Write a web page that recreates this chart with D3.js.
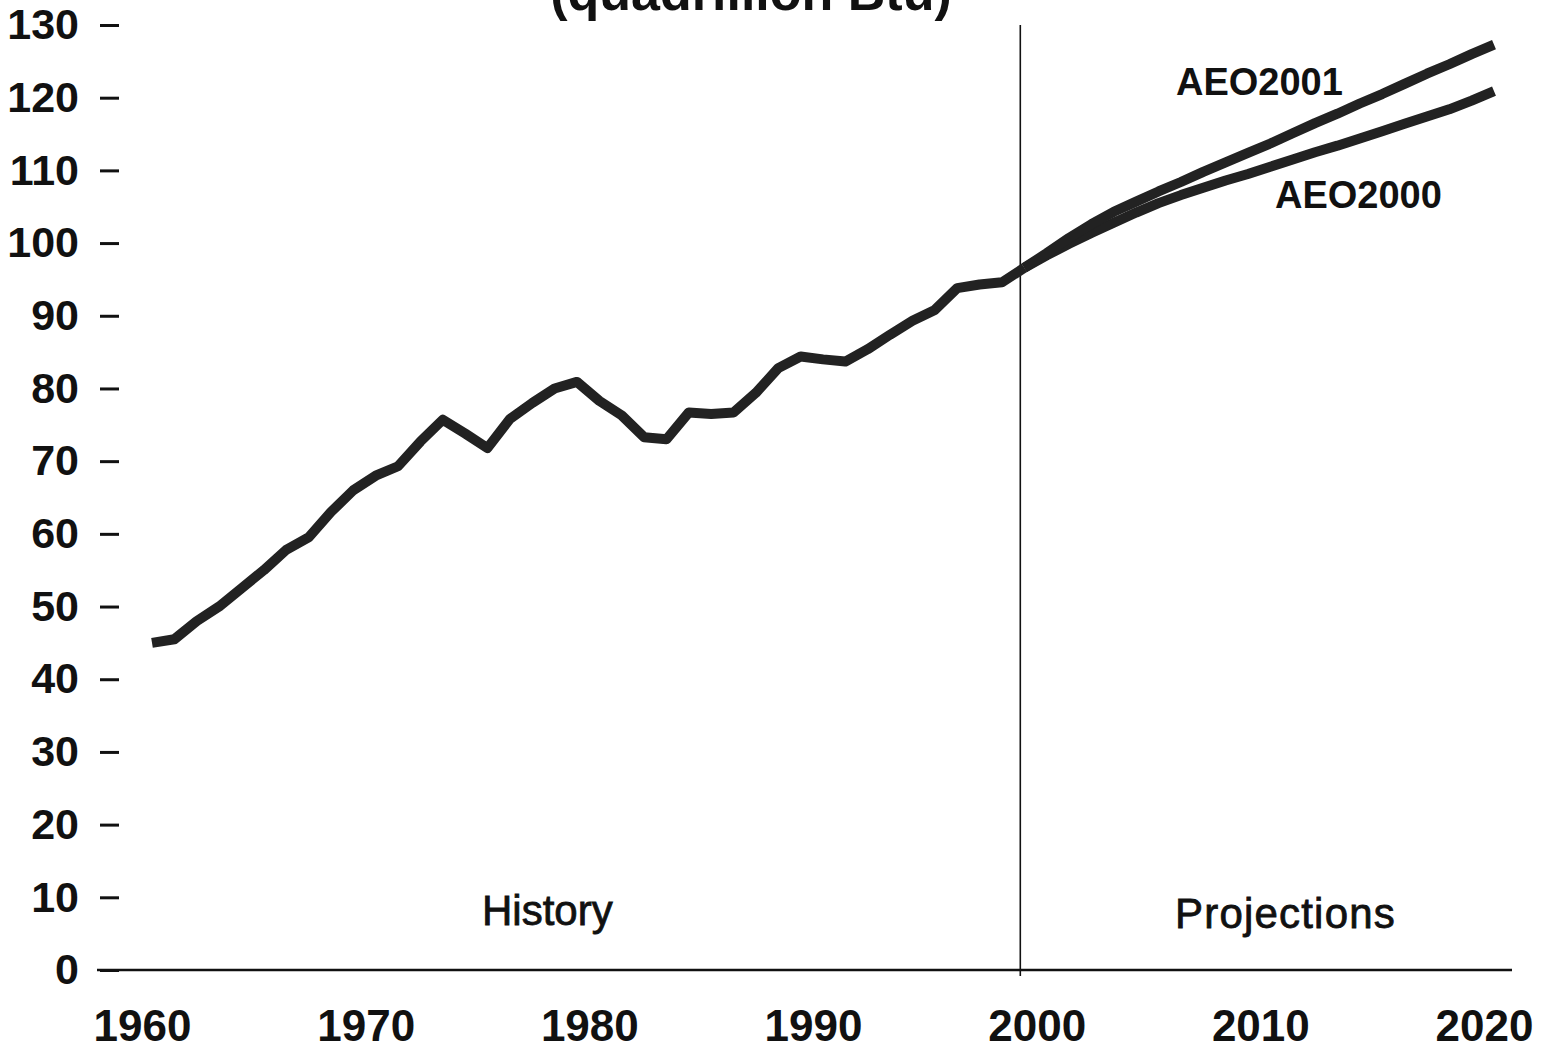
<!DOCTYPE html>
<html lang="en">
<head>
<meta charset="UTF-8">
<title>Energy Consumption, History and Projections</title>
<script src="https://d3js.org/d3.v7.min.js"></script>
<style>
  body { margin: 0; background: #fff; }
  svg { display: block; font-family: "Liberation Sans", Arial, sans-serif; }
  .axis text { font-weight: bold; fill: #111; }
  .label { fill: #111; }
</style>
</head>
<body>
<div id="chart"></div>
<script>
// History, quadrillion Btu
const histYears = [1960, 1961, 1962, 1963, 1964, 1965, 1966, 1967, 1968, 1969,
                   1970, 1971, 1972, 1973, 1974, 1975, 1976, 1977, 1978, 1979,
                   1980, 1981, 1982, 1983, 1984, 1985, 1986, 1987, 1988, 1989,
                   1990, 1991, 1992, 1993, 1994, 1995, 1996, 1997, 1998, 1999];
const histValues = [45.0, 45.5, 48.0, 50.0, 52.5, 55.0, 57.8, 59.5, 63.0, 66.0,
                    68.0, 69.3, 72.7, 75.7, 73.8, 71.8, 75.8, 78.0, 80.0, 80.9,
                    78.3, 76.3, 73.3, 73.0, 76.7, 76.5, 76.7, 79.4, 82.8, 84.4,
                    84.0, 83.7, 85.4, 87.4, 89.3, 90.8, 93.8, 94.3, 94.6, 96.6];

// Projections
const projYears = [1999, 2000, 2001, 2002, 2003, 2004, 2005, 2006, 2007, 2008, 2009,
                   2010, 2011, 2012, 2013, 2014, 2015, 2016, 2017, 2018, 2019, 2020];
const aeo2001 = [96.6, 98.6, 100.7, 102.6, 104.3, 105.7, 107.1, 108.4, 109.8, 111.1, 112.4,
                 113.7, 115.1, 116.5, 117.8, 119.2, 120.5, 121.9, 123.3, 124.6, 126.0, 127.3];
const aeo2000 = [96.6, 98.3, 99.9, 101.4, 102.8, 104.2, 105.5, 106.6, 107.6, 108.6, 109.5,
                 110.5, 111.5, 112.5, 113.4, 114.4, 115.4, 116.4, 117.4, 118.4, 119.6, 120.9];

const yTicks = [0, 10, 20, 30, 40, 50, 60, 70, 80, 90, 100, 110, 120, 130];
const xTicks = [1960, 1970, 1980, 1990, 2000, 2010, 2020];
const divideYear = 1999;

const width = 1559, height = 1052;

const svg = d3.select("#chart").append("svg")
    .attr("width", width)
    .attr("height", height);

const x = d3.scaleLinear().domain([1960, 2020]).range([152, 1494]);
const y = d3.scaleLinear().domain([0, 130]).range([970, 25]);

// title, cut off at the top edge as in the source
svg.append("text")
    .attr("x", 751)
    .attr("y", 10)
    .attr("text-anchor", "middle")
    .attr("font-size", 52)
    .attr("font-weight", "bold")
    .attr("fill", "#111")
    .text("(quadrillion Btu)");

// y axis: short dashes and labels, no domain line
const yAxis = svg.append("g")
    .attr("class", "axis")
    .attr("transform", "translate(119,0)")
    .call(d3.axisLeft(y).tickValues(yTicks).tickSize(19).tickPadding(21));
yAxis.select(".domain").remove();
yAxis.selectAll("line").attr("stroke", "#111").attr("stroke-width", 3);
yAxis.selectAll("text").attr("font-size", 43).attr("font-family", null);

// x axis labels
const xAxis = svg.append("g")
    .attr("class", "axis")
    .attr("transform", `translate(0,${y(0)})`)
    .call(d3.axisBottom(x).tickValues(xTicks).tickSize(0).tickPadding(40).tickFormat(d3.format("d")));
xAxis.select(".domain").remove();
xAxis.selectAll("text").attr("font-size", 44).attr("font-family", null).attr("dx", -10);

// baseline
svg.append("line")
    .attr("x1", 97).attr("x2", 1512)
    .attr("y1", y(0)).attr("y2", y(0))
    .attr("stroke", "#111").attr("stroke-width", 2.5);

// history / projections divider
svg.append("line")
    .attr("x1", x(divideYear) - 4).attr("x2", x(divideYear) - 4)
    .attr("y1", y(130)).attr("y2", y(0) + 6)
    .attr("stroke", "#111").attr("stroke-width", 1.6);

const line = d3.line()
    .x(d => x(d[0]))
    .y(d => y(d[1]));

function drawSeries(years, values) {
    svg.append("path")
        .datum(years.map((yr, i) => [yr, values[i]]))
        .attr("d", line)
        .attr("fill", "none")
        .attr("stroke", "#222")
        .attr("stroke-width", 10)
        .attr("stroke-linejoin", "round");
}

drawSeries(projYears, aeo2000);
drawSeries(projYears, aeo2001);
drawSeries(histYears, histValues);

// annotations
svg.append("text").attr("class", "label")
    .attr("x", 482).attr("y", 925)
    .attr("font-size", 42)
    .attr("stroke", "#111").attr("stroke-width", 0.8)
    .text("History");

svg.append("text").attr("class", "label")
    .attr("x", 1175).attr("y", 928)
    .attr("font-size", 42)
    .attr("letter-spacing", 1.2)
    .attr("stroke", "#111").attr("stroke-width", 0.8)
    .text("Projections");

svg.append("text").attr("class", "label")
    .attr("x", 1176).attr("y", 95)
    .attr("font-size", 38)
    .attr("font-weight", "bold")
    .text("AEO2001");

svg.append("text").attr("class", "label")
    .attr("x", 1275).attr("y", 208)
    .attr("font-size", 38)
    .attr("font-weight", "bold")
    .text("AEO2000");
</script>
</body>
</html>
